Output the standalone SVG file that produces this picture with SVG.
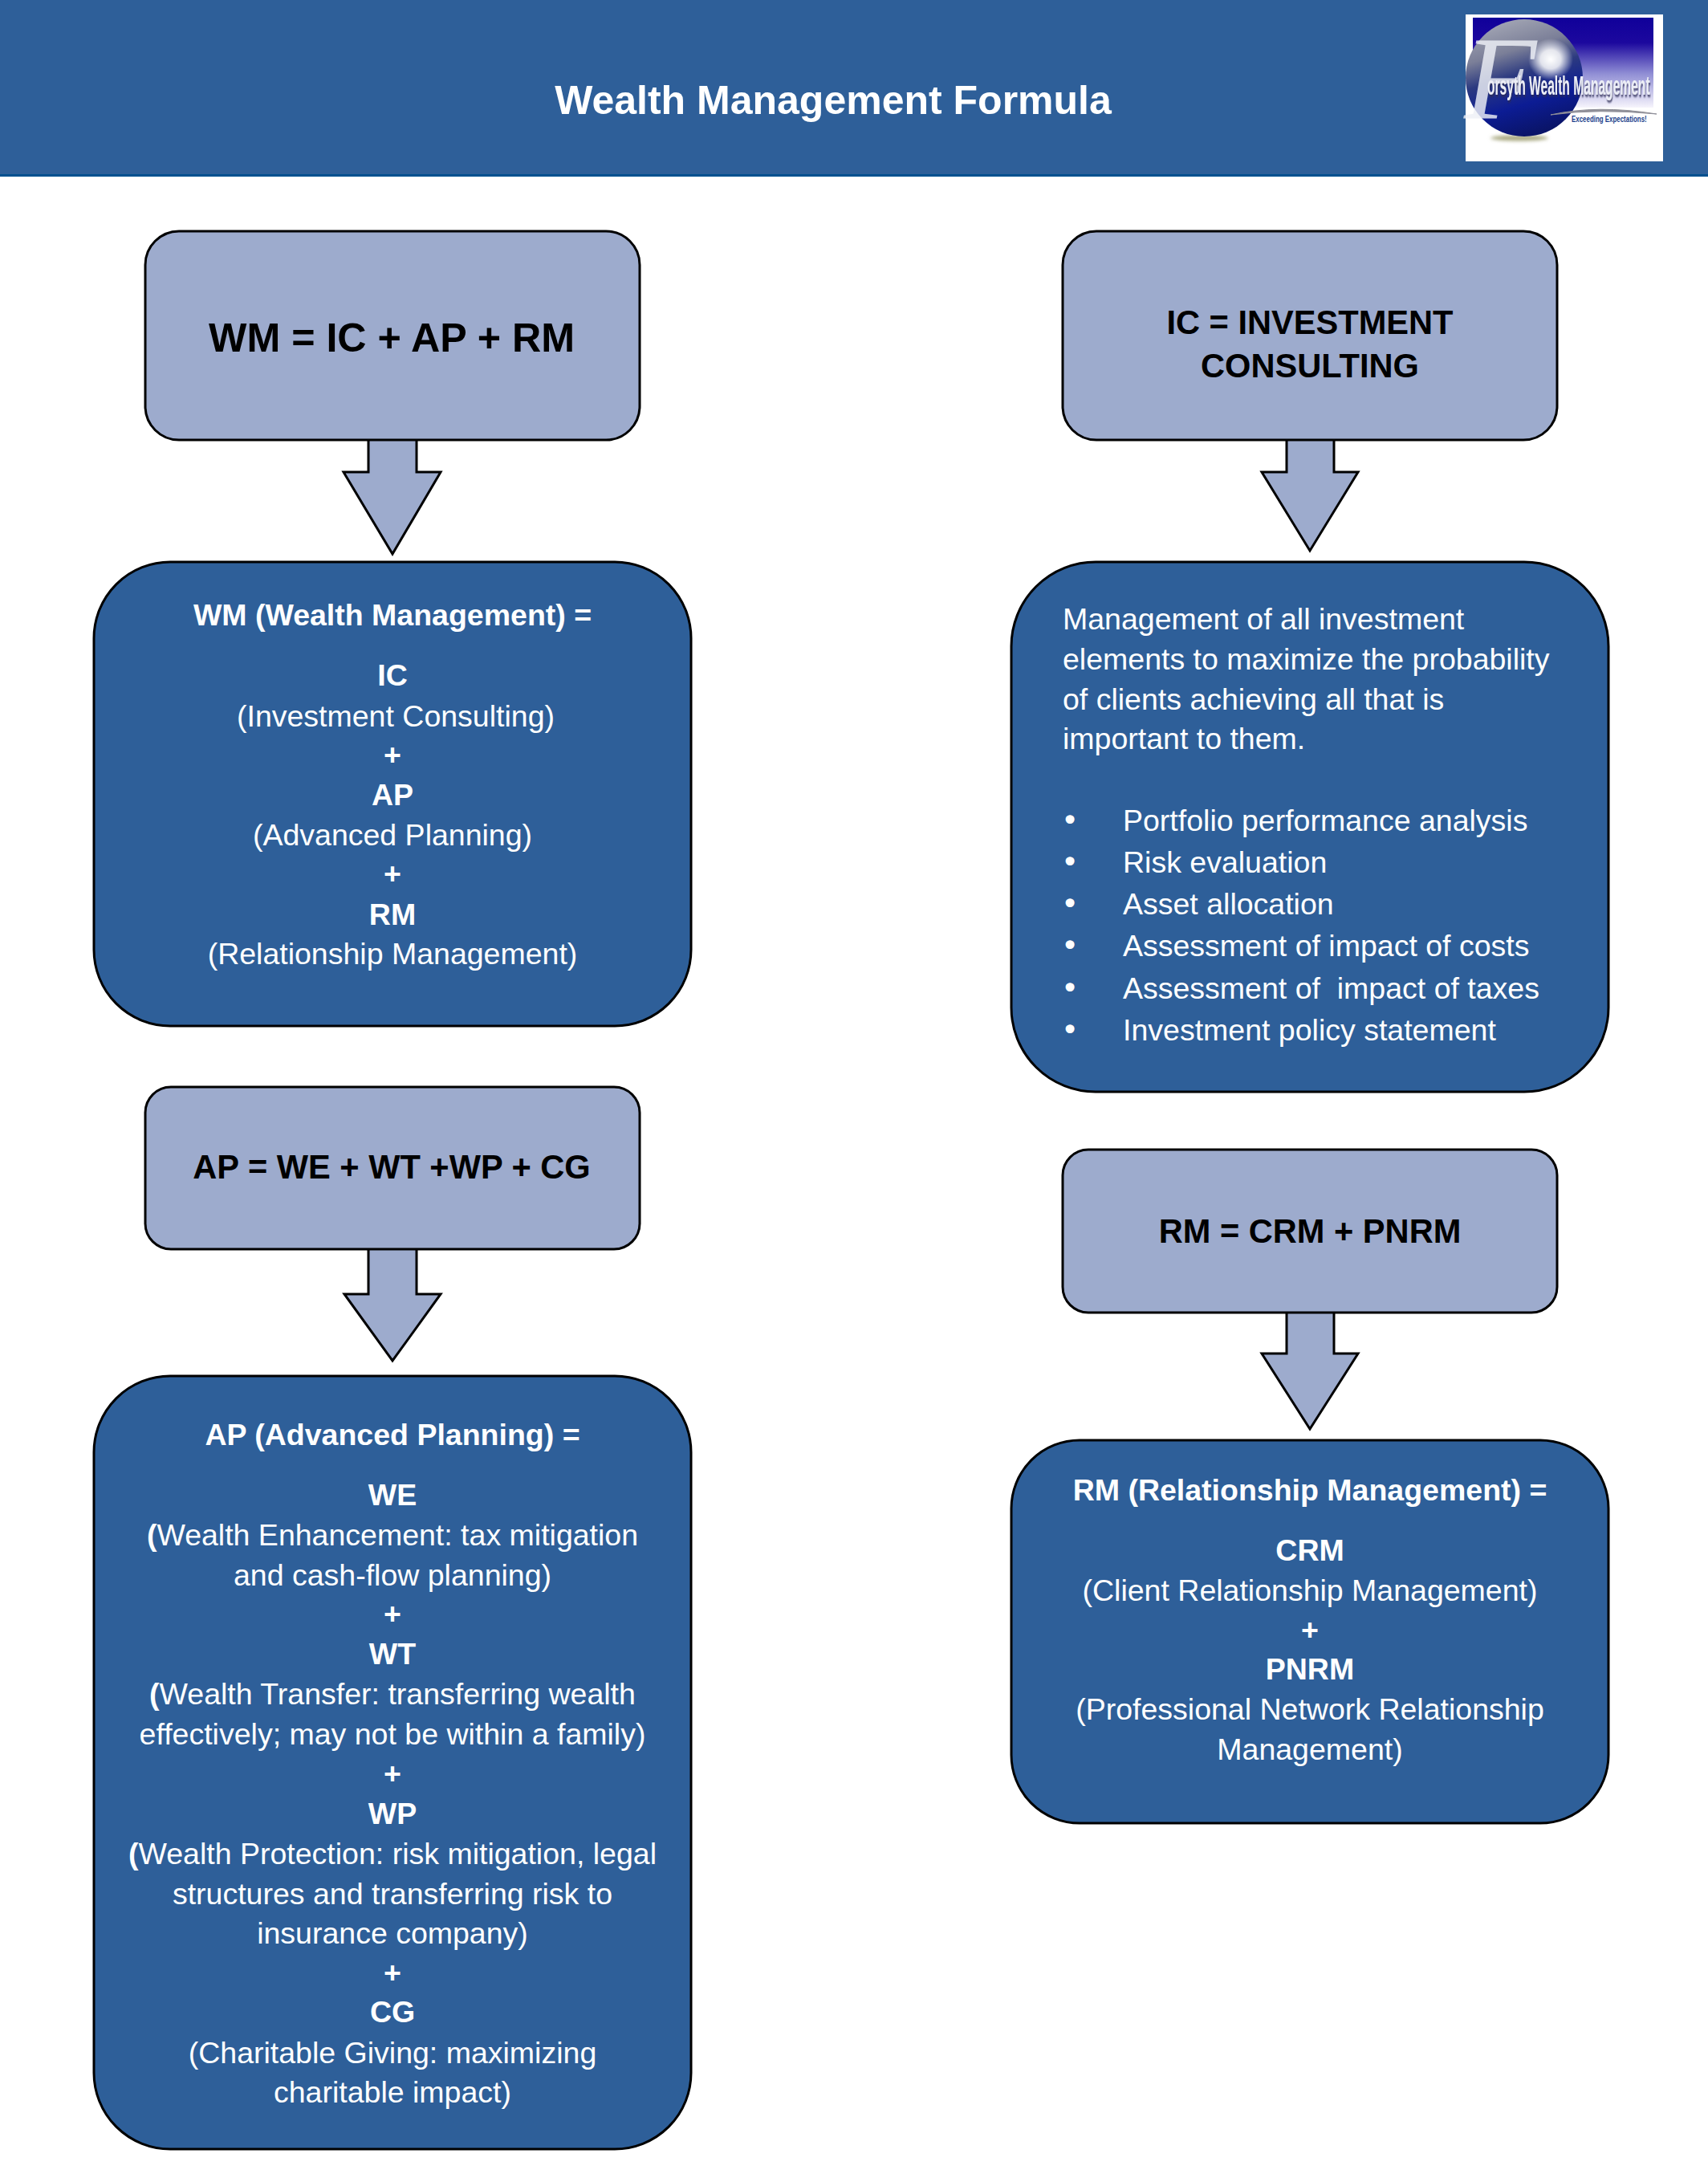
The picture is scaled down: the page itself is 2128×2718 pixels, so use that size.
<svg xmlns="http://www.w3.org/2000/svg" width="2128" height="2718" viewBox="0 0 2128 2718">
<style>
text{font-family:"Liberation Sans",Arial,sans-serif}
.lt{fill:#9dabcd;stroke:#000;stroke-width:3}
.dk{fill:#2e5f99;stroke:#000;stroke-width:3}
.f{fill:#fff;font-size:37.5px;text-anchor:middle}
.b{font-weight:700}
.l{fill:#fff;font-size:37.5px}
.d{font-family:"DejaVu Sans",sans-serif}
.h{fill:#000;font-weight:700;text-anchor:middle;font-size:41.6px}
.ar{fill:#9dabcd;stroke:#000;stroke-width:3;stroke-linejoin:miter}
</style>
<defs>
<linearGradient id="sky" x1="0" y1="0" x2="0" y2="1"><stop offset="0" stop-color="#10009a"/><stop offset=".28" stop-color="#1c089e"/><stop offset=".62" stop-color="#8f8dd4"/><stop offset="1" stop-color="#f6f4fc"/></linearGradient>
<linearGradient id="globe" x1=".2" y1="0" x2=".5" y2="1"><stop offset="0" stop-color="#a8abb8"/><stop offset=".3" stop-color="#7b7f98"/><stop offset=".5" stop-color="#2c3a80"/><stop offset=".75" stop-color="#0c1c94"/><stop offset="1" stop-color="#0a1468"/></linearGradient>
<radialGradient id="cloud"><stop offset="0" stop-color="#fff"/><stop offset=".45" stop-color="#fff" stop-opacity=".85"/><stop offset="1" stop-color="#fff" stop-opacity="0"/></radialGradient>
<filter id="sh" x="-5%" y="-20%" width="110%" height="150%"><feDropShadow dx="1" dy="2" stdDeviation=".6" flood-color="#2a2a55" flood-opacity=".8"/></filter>
<filter id="soft" x="-20%" y="-100%" width="140%" height="300%"><feGaussianBlur stdDeviation="2"/></filter>
</defs>
<rect id="page" width="2128" height="2718" fill="#fff"/>
<g id="header">
<rect width="2128" height="218" fill="#2e5f99"/>
<rect y="217" width="2128" height="3" fill="#00508f"/>
<text x="1038" y="142" fill="#fff" font-size="50" font-weight="700" text-anchor="middle">Wealth Management Formula</text>
</g>
<g id="logo">
<rect x="1826" y="18" width="246" height="183" fill="#fff"/>
<rect x="1835" y="22" width="225" height="112" fill="url(#sky)"/>
<ellipse cx="1893" cy="172" rx="36" ry="3.500" fill="#a8a880" filter="url(#soft)"/>
<circle cx="1899" cy="97" r="73" fill="url(#globe)"/>
<ellipse cx="1932" cy="74" rx="28" ry="26" fill="url(#cloud)"/>
<text x="1824" y="148" fill="#eef0f6" fill-opacity=".82" font-size="148" font-style="italic" style="font-family:'Liberation Serif',serif">F</text>
<text transform="translate(1853 118) scale(.679 1.435)" fill="#eceef6" font-size="23" font-weight="700" filter="url(#sh)">orsyth Wealth Management</text>
<path d="M1932 143Q1990 130 2064 142Q1990 135 1932 143Z" fill="#8f8f98" stroke="#8f8f98"/>
<text transform="translate(1958 152) scale(.72 1)" fill="#1c3f8c" font-size="11" font-weight="700">Exceeding Expectations!</text>
</g>
<g id="connectors">
<polygon class="ar" points="459,546 519,546 519,588 549,588 489,690 428,588 459,588"/>
<polygon class="ar" points="1603,546 1662,546 1662,588 1692,588 1632,686 1572,588 1603,588"/>
<polygon class="ar" points="459,1554 519,1554 519,1612 549,1612 489,1695 429,1612 459,1612"/>
<polygon class="ar" points="1603,1633 1662,1633 1662,1686 1692,1686 1632,1780 1572,1686 1603,1686"/>
</g>
<g id="wm-eq"><rect class="lt" x="181" y="288" width="616" height="260" rx="42"/><text class="h" x="488" y="438" style="font-size:50.2px">WM = IC + AP + RM</text></g>
<g id="ic-eq"><rect class="lt" x="1324" y="288" width="616" height="260" rx="42"/><text class="h" x="1632" y="416">IC = INVESTMENT</text><text class="h" x="1632" y="470">CONSULTING</text></g>
<g id="ap-eq"><rect class="lt" x="181" y="1354" width="616" height="202" rx="32"/><text class="h" x="488" y="1468">AP = WE + WT +WP + CG</text></g>
<g id="rm-eq"><rect class="lt" x="1324" y="1432" width="616" height="203" rx="32"/><text class="h" x="1632" y="1548">RM = CRM + PNRM</text></g>
<g id="wm-def"><rect class="dk" x="117" y="700" width="744" height="578" rx="95"/>
<text class="f b" x="489" y="779">WM (Wealth Management) =</text>
<text class="f b" x="489" y="854">IC</text>
<text class="f" x="493" y="905">(Investment Consulting)</text>
<text class="f b" x="489" y="953">+</text>
<text class="f b" x="489" y="1003">AP</text>
<text class="f" x="489" y="1053">(Advanced Planning)</text>
<text class="f b" x="489" y="1101">+</text>
<text class="f b" x="489" y="1152">RM</text>
<text class="f" x="489" y="1201">(Relationship Management)</text>
</g>
<g id="ic-def"><rect class="dk" x="1260" y="700" width="744" height="660" rx="105"/>
<text class="l" x="1324" y="784">Management of all investment</text>
<text class="l" x="1324" y="834">elements to maximize the probability</text>
<text class="l" x="1324" y="884">of clients achieving all that is</text>
<text class="l" x="1324" y="933">important to them.</text>
<text class="l" y="1035"><tspan class="d" x="1322">•</tspan><tspan x="1399">Portfolio performance analysis</tspan></text>
<text class="l" y="1087"><tspan class="d" x="1322">•</tspan><tspan x="1399">Risk evaluation</tspan></text>
<text class="l" y="1139"><tspan class="d" x="1322">•</tspan><tspan x="1399">Asset allocation</tspan></text>
<text class="l" y="1191"><tspan class="d" x="1322">•</tspan><tspan x="1399">Assessment of impact of costs</tspan></text>
<text class="l" y="1244" xml:space="preserve"><tspan class="d" x="1322">•</tspan><tspan x="1399">Assessment of  impact of taxes</tspan></text>
<text class="l" y="1296"><tspan class="d" x="1322">•</tspan><tspan x="1399">Investment policy statement</tspan></text>
</g>
<g id="ap-def"><rect class="dk" x="117" y="1714" width="744" height="963" rx="95"/>
<text class="f b" x="489" y="1800">AP (Advanced Planning) =</text>
<text class="f b" x="489" y="1875">WE</text>
<text class="f" x="489" y="1925"><tspan class="b">(</tspan>Wealth Enhancement: tax mitigation</text>
<text class="f" x="489" y="1975">and cash-flow planning)</text>
<text class="f b" x="489" y="2023">+</text>
<text class="f b" x="489" y="2073">WT</text>
<text class="f" x="489" y="2123"><tspan class="b">(</tspan>Wealth Transfer: transferring wealth</text>
<text class="f" x="489" y="2173">effectively; may not be within a family)</text>
<text class="f b" x="489" y="2222">+</text>
<text class="f b" x="489" y="2272">WP</text>
<text class="f" x="489" y="2322"><tspan class="b">(</tspan>Wealth Protection: risk mitigation, legal</text>
<text class="f" x="489" y="2372">structures and transferring risk to</text>
<text class="f" x="489" y="2421">insurance company)</text>
<text class="f b" x="489" y="2470">+</text>
<text class="f b" x="489" y="2519">CG</text>
<text class="f" x="489" y="2570">(Charitable Giving: maximizing</text>
<text class="f" x="489" y="2619">charitable impact)</text>
</g>
<g id="rm-def"><rect class="dk" x="1260" y="1794" width="744" height="477" rx="85"/>
<text class="f b" x="1632" y="1869">RM (Relationship Management) =</text>
<text class="f b" x="1632" y="1944">CRM</text>
<text class="f" x="1632" y="1994">(Client Relationship Management)</text>
<text class="f b" x="1632" y="2043">+</text>
<text class="f b" x="1632" y="2092">PNRM</text>
<text class="f" x="1632" y="2142">(Professional Network Relationship</text>
<text class="f" x="1632" y="2192">Management)</text>
</g>
</svg>
